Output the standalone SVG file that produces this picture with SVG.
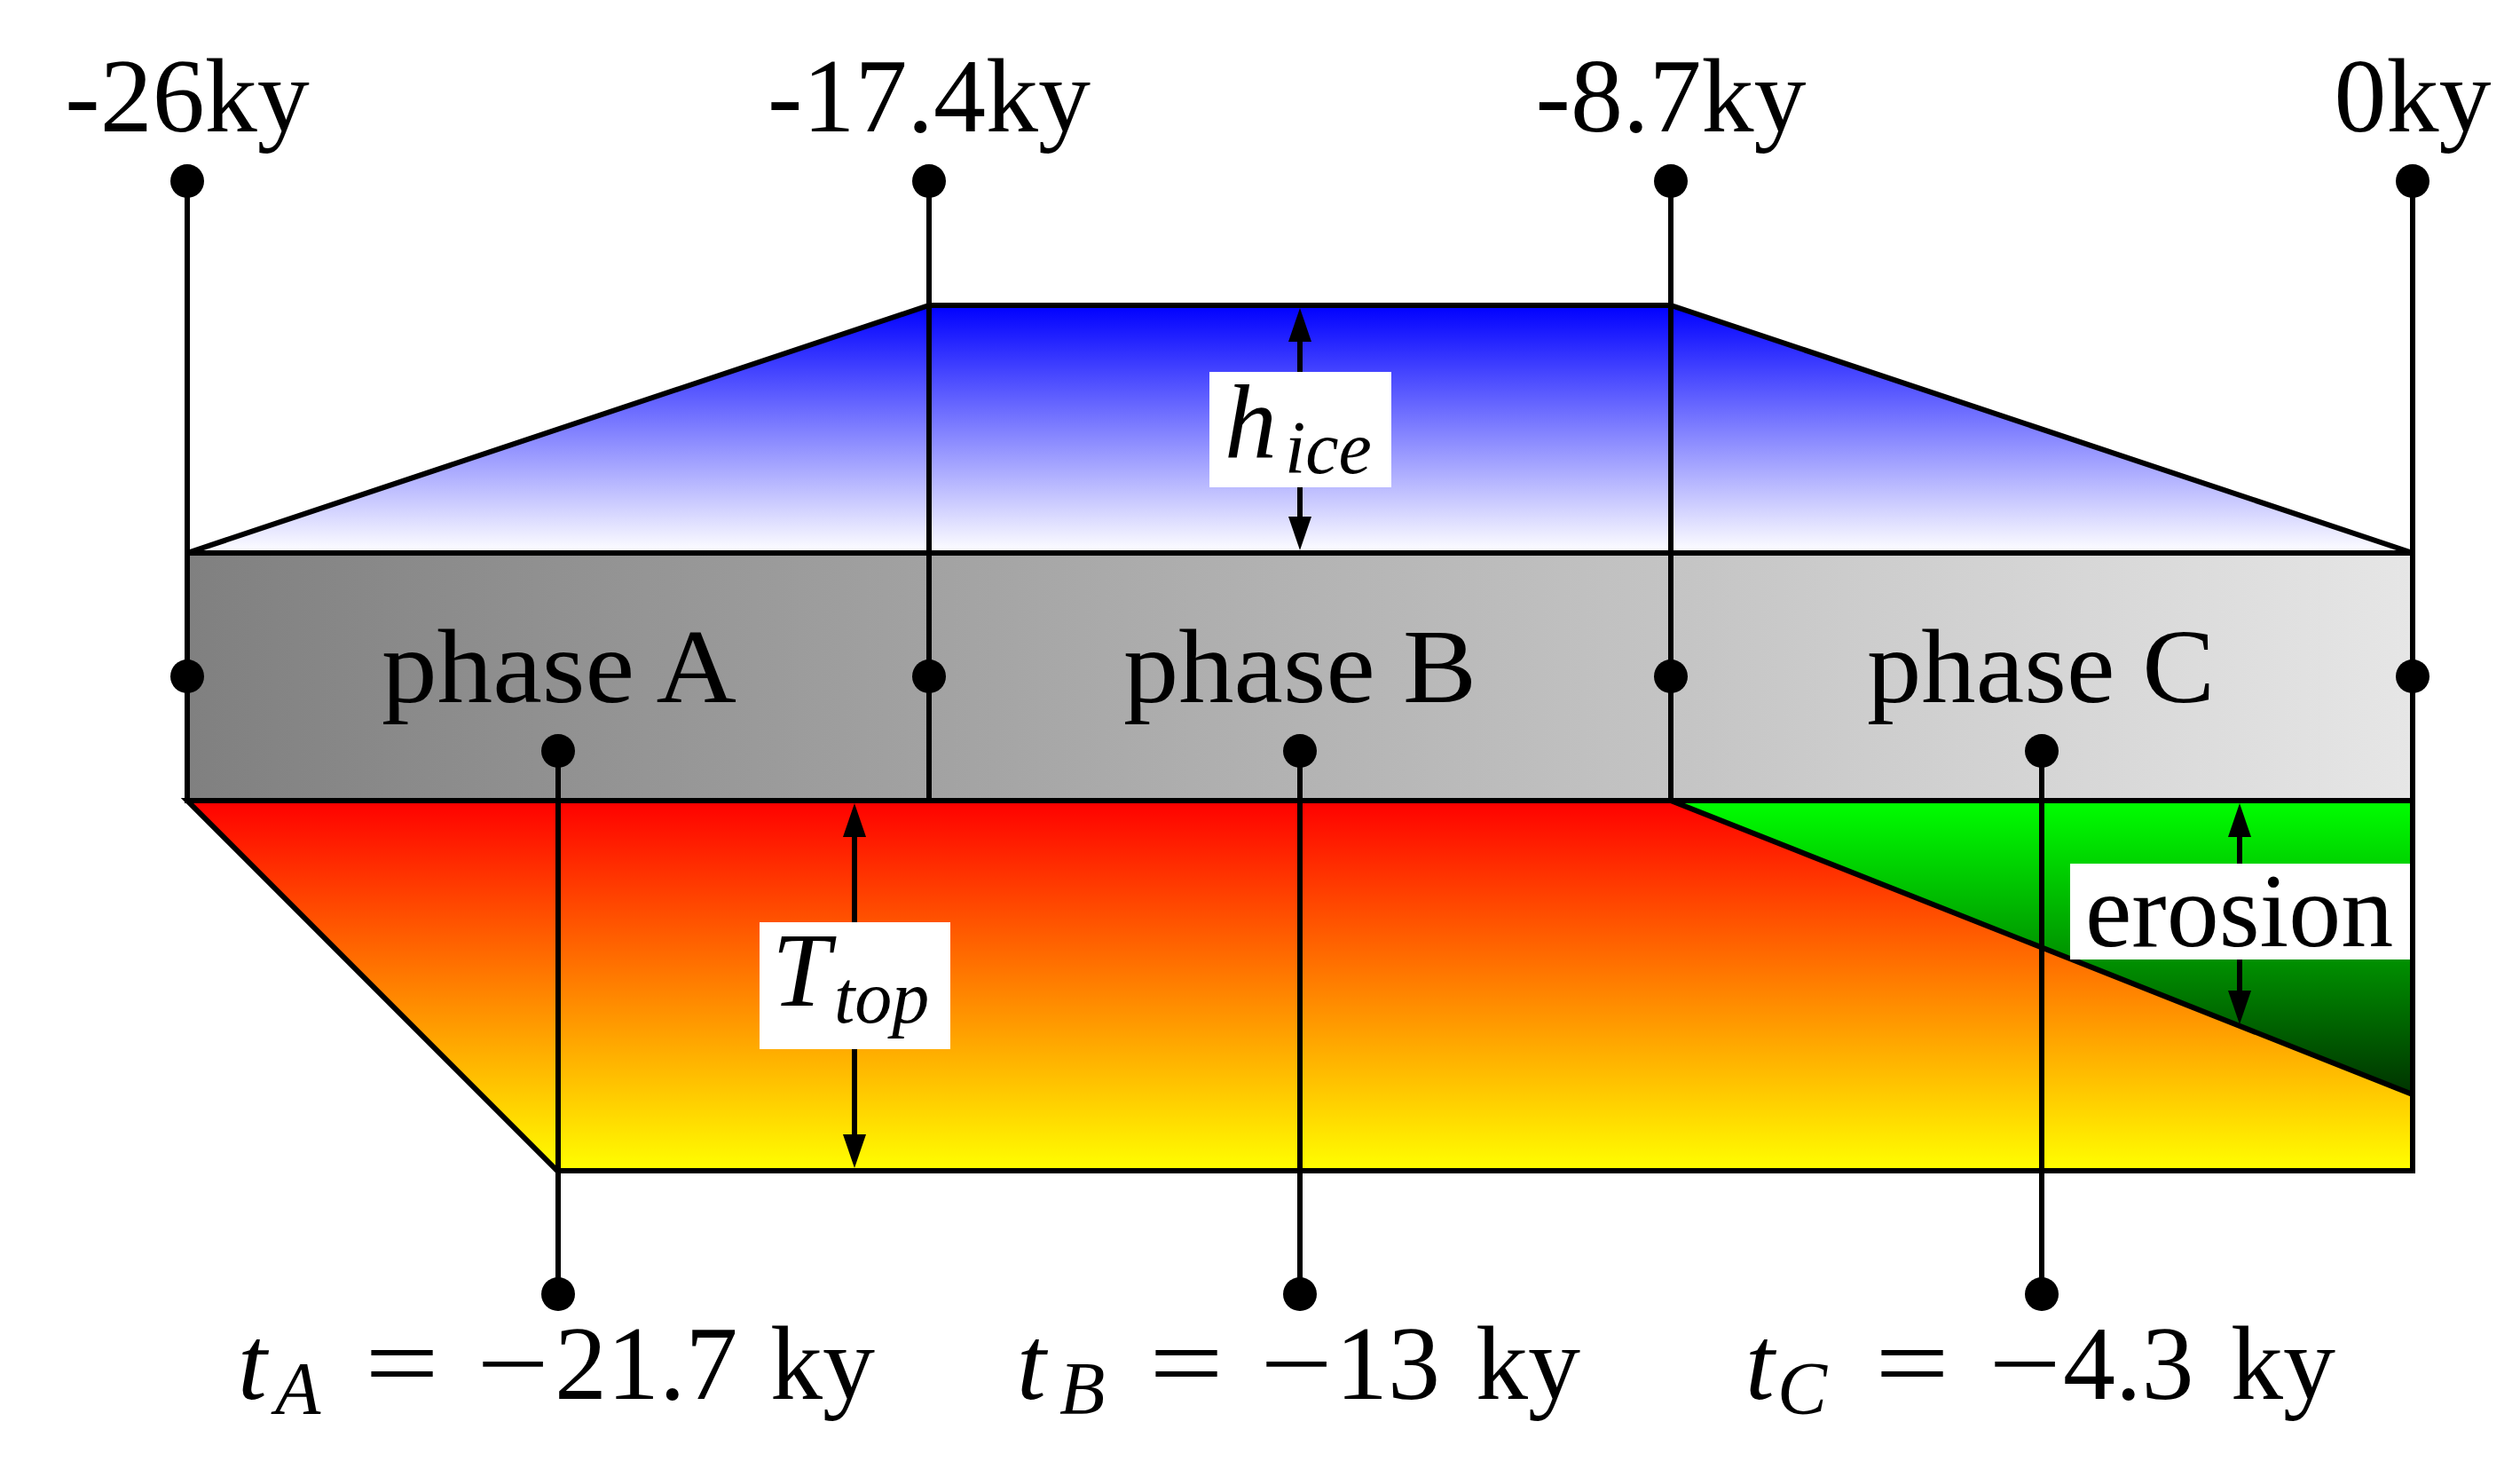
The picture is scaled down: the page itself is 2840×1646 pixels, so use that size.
<svg xmlns="http://www.w3.org/2000/svg" width="2840" height="1646" viewBox="0 0 2840 1646">
<style>
.sh{stroke:#000;stroke-width:6;stroke-linejoin:miter}
.ln{stroke:#000;stroke-width:6;fill:none}
.ar{stroke:#000;stroke-width:6;fill:none;marker-start:url(#ah);marker-end:url(#ah)}
.dot{fill:#000}
.box{fill:#fff}
.t{font-family:"Liberation Serif","Times New Roman",serif;font-size:118px;fill:#000}
.i{font-style:italic}
.s{font-size:84px}
</style>
<defs>
<linearGradient id="gIce" x1="0" y1="0" x2="0" y2="1"><stop offset="0" stop-color="#0000ff"/><stop offset="1" stop-color="#ffffff"/></linearGradient>
<linearGradient id="gGray" x1="0" y1="0" x2="1" y2="0"><stop offset="0" stop-color="#808080"/><stop offset="1" stop-color="#e6e6e6"/></linearGradient>
<linearGradient id="gRed" x1="0" y1="0" x2="0" y2="1"><stop offset="0" stop-color="#ff0000"/><stop offset="1" stop-color="#ffff00"/></linearGradient>
<linearGradient id="gGreen" x1="0" y1="0" x2="0" y2="1"><stop offset="0" stop-color="#00ff00"/><stop offset="1" stop-color="#003300"/></linearGradient>
<marker id="ah" viewBox="0 0 38 26" refX="0" refY="13" markerWidth="38" markerHeight="26" markerUnits="userSpaceOnUse" orient="auto-start-reverse"><path d="M0,0 L38,13 L0,26 Z" fill="#000"/></marker>
</defs>
<rect width="2840" height="1646" fill="#fff"/>

<g id="ice-layer"><polygon class="sh" fill="url(#gIce)" points="211,623 1047,344 1883,344 2719,623"/></g>
<g id="phase-layer"><rect class="sh" fill="url(#gGray)" x="211" y="623" width="2508" height="279"/></g>
<g id="temperature-layer"><polygon class="sh" fill="url(#gRed)" points="211,902 2719,902 2719,1319 628,1319"/></g>
<g id="erosion-layer"><polygon class="sh" fill="url(#gGreen)" points="1883,902 2719,902 2719,1233"/></g>

<g id="connectors">
<line class="ln" x1="211" y1="204" x2="211" y2="902"/>
<line class="ln" x1="1047" y1="204" x2="1047" y2="902"/>
<line class="ln" x1="1883" y1="204" x2="1883" y2="902"/>
<line class="ln" x1="2719" y1="204" x2="2719" y2="1319"/>
<line class="ln" x1="629" y1="846" x2="629" y2="1458"/>
<line class="ln" x1="1465" y1="846" x2="1465" y2="1458"/>
<line class="ln" x1="2301" y1="846" x2="2301" y2="1458"/>
<line class="ar" x1="1465" y1="385" x2="1465" y2="582"/>
<line class="ar" x1="963" y1="943" x2="963" y2="1278"/>
<line class="ar" x1="2524" y1="943" x2="2524" y2="1116"/>
</g>

<g id="dots">
<circle class="dot" cx="211" cy="204" r="19"/>
<circle class="dot" cx="1047" cy="204" r="19"/>
<circle class="dot" cx="1883" cy="204" r="19"/>
<circle class="dot" cx="2719" cy="204" r="19"/>
<circle class="dot" cx="211" cy="762" r="19"/>
<circle class="dot" cx="1047" cy="762" r="19"/>
<circle class="dot" cx="1883" cy="762" r="19"/>
<circle class="dot" cx="2719" cy="762" r="19"/>
<circle class="dot" cx="629" cy="846" r="19"/>
<circle class="dot" cx="1465" cy="846" r="19"/>
<circle class="dot" cx="2301" cy="846" r="19"/>
<circle class="dot" cx="629" cy="1458" r="19"/>
<circle class="dot" cx="1465" cy="1458" r="19"/>
<circle class="dot" cx="2301" cy="1458" r="19"/>
</g>

<g id="time-labels" class="t" text-anchor="middle">
<text x="211" y="148">-26ky</text>
<text x="1047" y="148">-17.4ky</text>
<text x="1883" y="148">-8.7ky</text>
<text x="2719" y="148">0ky</text>
</g>

<g id="phase-labels" class="t">
<text x="430" y="791" textLength="400" lengthAdjust="spacingAndGlyphs">phase A</text>
<text x="1266" y="791" textLength="398" lengthAdjust="spacingAndGlyphs">phase B</text>
<text x="2104" y="791" textLength="392" lengthAdjust="spacingAndGlyphs">phase C</text>
</g>

<g id="h-ice-label">
<rect class="box" x="1363" y="419" width="205" height="130"/>
<text class="t"><tspan class="i" x="1380" y="515">h</tspan><tspan class="i s" x="1448" y="533">ice</tspan></text>
</g>
<g id="t-top-label">
<rect class="box" x="856" y="1039" width="215" height="143"/>
<text class="t"><tspan class="i" x="870" y="1133">T</tspan><tspan class="i s" x="940" y="1152">top</tspan></text>
</g>
<g id="erosion-label">
<rect class="box" x="2333" y="973" width="383" height="108"/>
<text class="t" x="2350" y="1066">erosion</text>
</g>

<g id="phase-times" class="t">
<g id="tA">
<text><tspan class="i" x="268" y="1576">t</tspan><tspan class="i s" x="310" y="1593">A</tspan></text>
<text x="411" y="1576" textLength="84" lengthAdjust="spacingAndGlyphs">=</text>
<text x="537" y="1576" textLength="82" lengthAdjust="spacingAndGlyphs">−</text>
<text x="625" y="1576">21.7</text>
<text x="868" y="1576">ky</text>
</g>
<g id="tB">
<text><tspan class="i" x="1146" y="1576">t</tspan><tspan class="i s" x="1194" y="1593">B</tspan></text>
<text x="1295" y="1576" textLength="84" lengthAdjust="spacingAndGlyphs">=</text>
<text x="1420" y="1576" textLength="82" lengthAdjust="spacingAndGlyphs">−</text>
<text x="1505" y="1576">13</text>
<text x="1663" y="1576">ky</text>
</g>
<g id="tC">
<text><tspan class="i" x="1967" y="1576">t</tspan><tspan class="i s" x="2003" y="1593">C</tspan></text>
<text x="2113" y="1576" textLength="84" lengthAdjust="spacingAndGlyphs">=</text>
<text x="2241" y="1576" textLength="82" lengthAdjust="spacingAndGlyphs">−</text>
<text x="2325" y="1576">4.3</text>
<text x="2514" y="1576">ky</text>
</g>
</g>
</svg>
